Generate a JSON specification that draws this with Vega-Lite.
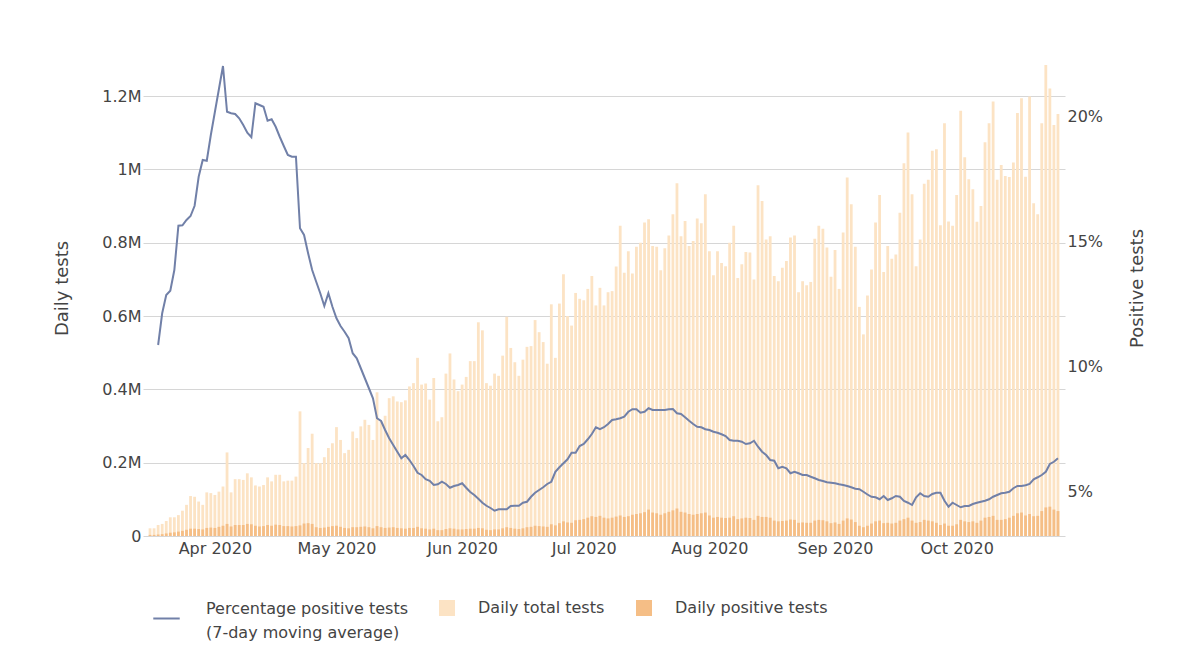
{
  "$schema": "https://vega.github.io/schema/vega-lite/v6.json",
  "width": 922,
  "height": 496,
  "autosize": {"type": "none"},
  "padding": {"left": 143, "top": 40, "right": 135, "bottom": 122},
  "background": "white",
  "config": {
    "view": {"stroke": null},
    "font": "DejaVu Sans",
    "axis": {"labelFont": "DejaVu Sans", "labelFontSize": 16, "labelColor": "#444444", "titleFont": "DejaVu Sans", "titleFontSize": 18, "titleColor": "#444444", "titleFontWeight": "normal", "domain": false, "ticks": false},
    "legend": {"labelFont": "DejaVu Sans", "labelFontSize": 16, "labelColor": "#444444", "padding": 0, "labelLimit": 0}
  },
  "data": {"values": [
    {"date":"2020-03-16","total":21000,"positive":3000},
    {"date":"2020-03-17","total":21000,"positive":3000},
    {"date":"2020-03-18","total":30000,"positive":4000,"pct":10.84},
    {"date":"2020-03-19","total":33000,"positive":5000,"pct":12.11},
    {"date":"2020-03-20","total":41000,"positive":7000,"pct":12.84},
    {"date":"2020-03-21","total":51000,"positive":9000,"pct":13.01},
    {"date":"2020-03-22","total":51000,"positive":10000,"pct":13.84},
    {"date":"2020-03-23","total":57000,"positive":12000,"pct":15.61},
    {"date":"2020-03-24","total":69000,"positive":14000,"pct":15.63},
    {"date":"2020-03-25","total":85000,"positive":17000,"pct":15.84},
    {"date":"2020-03-26","total":109000,"positive":20000,"pct":16.0},
    {"date":"2020-03-27","total":107000,"positive":20000,"pct":16.41},
    {"date":"2020-03-28","total":94000,"positive":19000,"pct":17.57},
    {"date":"2020-03-29","total":85000,"positive":18000,"pct":18.24},
    {"date":"2020-03-30","total":119000,"positive":22000,"pct":18.21},
    {"date":"2020-03-31","total":117000,"positive":23000,"pct":19.24},
    {"date":"2020-04-01","total":112000,"positive":22000,"pct":20.16},
    {"date":"2020-04-02","total":121000,"positive":25000,"pct":21.08},
    {"date":"2020-04-03","total":135000,"positive":28000,"pct":22.0},
    {"date":"2020-04-04","total":228000,"positive":33000,"pct":20.17},
    {"date":"2020-04-05","total":119000,"positive":26000,"pct":20.11},
    {"date":"2020-04-06","total":155000,"positive":30000,"pct":20.08},
    {"date":"2020-04-07","total":155000,"positive":30000,"pct":19.91},
    {"date":"2020-04-08","total":153000,"positive":30000,"pct":19.64},
    {"date":"2020-04-09","total":171000,"positive":33000,"pct":19.33},
    {"date":"2020-04-10","total":160000,"positive":32000,"pct":19.15},
    {"date":"2020-04-11","total":138000,"positive":28000,"pct":20.51},
    {"date":"2020-04-12","total":135000,"positive":26000,"pct":20.44},
    {"date":"2020-04-13","total":139000,"positive":27000,"pct":20.37},
    {"date":"2020-04-14","total":160000,"positive":30000,"pct":19.81},
    {"date":"2020-04-15","total":149000,"positive":28000,"pct":19.87},
    {"date":"2020-04-16","total":167000,"positive":31000,"pct":19.57},
    {"date":"2020-04-17","total":167000,"positive":30000,"pct":19.17},
    {"date":"2020-04-18","total":149000,"positive":27000,"pct":18.8},
    {"date":"2020-04-19","total":151000,"positive":27000,"pct":18.44},
    {"date":"2020-04-20","total":151000,"positive":26000,"pct":18.37},
    {"date":"2020-04-21","total":162000,"positive":27000,"pct":18.37},
    {"date":"2020-04-22","total":340000,"positive":29000,"pct":15.51},
    {"date":"2020-04-23","total":199000,"positive":34000,"pct":15.24},
    {"date":"2020-04-24","total":240000,"positive":35000,"pct":14.51},
    {"date":"2020-04-25","total":279000,"positive":33000,"pct":13.84},
    {"date":"2020-04-26","total":199000,"positive":24000,"pct":13.37},
    {"date":"2020-04-27","total":199000,"positive":22000,"pct":12.91},
    {"date":"2020-04-28","total":215000,"positive":23000,"pct":12.40},
    {"date":"2020-04-29","total":240000,"positive":25000,"pct":12.91},
    {"date":"2020-04-30","total":253000,"positive":27000,"pct":12.37},
    {"date":"2020-05-01","total":297000,"positive":28000,"pct":11.91},
    {"date":"2020-05-02","total":262000,"positive":25000,"pct":11.60},
    {"date":"2020-05-03","total":226000,"positive":22000,"pct":11.37},
    {"date":"2020-05-04","total":235000,"positive":21000,"pct":11.11},
    {"date":"2020-05-05","total":285000,"positive":24000,"pct":10.51},
    {"date":"2020-05-06","total":267000,"positive":24000,"pct":10.31},
    {"date":"2020-05-07","total":299000,"positive":25000,"pct":9.91},
    {"date":"2020-05-08","total":317000,"positive":26000,"pct":9.51},
    {"date":"2020-05-09","total":303000,"positive":24000,"pct":9.11},
    {"date":"2020-05-10","total":262000,"positive":21000,"pct":8.71},
    {"date":"2020-05-11","total":392000,"positive":27000,"pct":7.91},
    {"date":"2020-05-12","total":313000,"positive":24000,"pct":7.80},
    {"date":"2020-05-13","total":328000,"positive":22000,"pct":7.44},
    {"date":"2020-05-14","total":376000,"positive":23000,"pct":7.11},
    {"date":"2020-05-15","total":381000,"positive":24000,"pct":6.84},
    {"date":"2020-05-16","total":367000,"positive":22000,"pct":6.57},
    {"date":"2020-05-17","total":365000,"positive":21000,"pct":6.31},
    {"date":"2020-05-18","total":370000,"positive":20000,"pct":6.44},
    {"date":"2020-05-19","total":408000,"positive":22000,"pct":6.24},
    {"date":"2020-05-20","total":417000,"positive":22000,"pct":6.00},
    {"date":"2020-05-21","total":486000,"positive":25000,"pct":5.73},
    {"date":"2020-05-22","total":413000,"positive":21000,"pct":5.64},
    {"date":"2020-05-23","total":416000,"positive":20000,"pct":5.47},
    {"date":"2020-05-24","total":372000,"positive":18000,"pct":5.41},
    {"date":"2020-05-25","total":431000,"positive":20000,"pct":5.24},
    {"date":"2020-05-26","total":313000,"positive":16000,"pct":5.27},
    {"date":"2020-05-27","total":324000,"positive":16000,"pct":5.37},
    {"date":"2020-05-28","total":443000,"positive":19000,"pct":5.28},
    {"date":"2020-05-29","total":498000,"positive":21000,"pct":5.13},
    {"date":"2020-05-30","total":427000,"positive":20000,"pct":5.20},
    {"date":"2020-05-31","total":395000,"positive":18000,"pct":5.24},
    {"date":"2020-06-01","total":413000,"positive":18000,"pct":5.31},
    {"date":"2020-06-02","total":434000,"positive":19000,"pct":5.13},
    {"date":"2020-06-03","total":477000,"positive":20000,"pct":4.96},
    {"date":"2020-06-04","total":477000,"positive":20000,"pct":4.84},
    {"date":"2020-06-05","total":583000,"positive":22000,"pct":4.69},
    {"date":"2020-06-06","total":561000,"positive":21000,"pct":4.53},
    {"date":"2020-06-07","total":417000,"positive":17000,"pct":4.41},
    {"date":"2020-06-08","total":410000,"positive":16000,"pct":4.32},
    {"date":"2020-06-09","total":443000,"positive":18000,"pct":4.21},
    {"date":"2020-06-10","total":437000,"positive":18000,"pct":4.27},
    {"date":"2020-06-11","total":492000,"positive":21000,"pct":4.27},
    {"date":"2020-06-12","total":598000,"positive":24000,"pct":4.27},
    {"date":"2020-06-13","total":513000,"positive":22000,"pct":4.40},
    {"date":"2020-06-14","total":474000,"positive":20000,"pct":4.41},
    {"date":"2020-06-15","total":437000,"positive":19000,"pct":4.41},
    {"date":"2020-06-16","total":481000,"positive":21000,"pct":4.53},
    {"date":"2020-06-17","total":516000,"positive":24000,"pct":4.57},
    {"date":"2020-06-18","total":518000,"positive":25000,"pct":4.77},
    {"date":"2020-06-19","total":589000,"positive":28000,"pct":4.93},
    {"date":"2020-06-20","total":556000,"positive":27000,"pct":5.04},
    {"date":"2020-06-21","total":529000,"positive":26000,"pct":5.15},
    {"date":"2020-06-22","total":470000,"positive":25000,"pct":5.28},
    {"date":"2020-06-23","total":632000,"positive":32000,"pct":5.37},
    {"date":"2020-06-24","total":486000,"positive":29000,"pct":5.77},
    {"date":"2020-06-25","total":634000,"positive":35000,"pct":5.95},
    {"date":"2020-06-26","total":714000,"positive":40000,"pct":6.11},
    {"date":"2020-06-27","total":600000,"positive":37000,"pct":6.27},
    {"date":"2020-06-28","total":574000,"positive":36000,"pct":6.53},
    {"date":"2020-06-29","total":663000,"positive":43000,"pct":6.53},
    {"date":"2020-06-30","total":647000,"positive":44000,"pct":6.80},
    {"date":"2020-07-01","total":643000,"positive":46000,"pct":6.88},
    {"date":"2020-07-02","total":674000,"positive":50000,"pct":7.07},
    {"date":"2020-07-03","total":709000,"positive":54000,"pct":7.28},
    {"date":"2020-07-04","total":629000,"positive":52000,"pct":7.55},
    {"date":"2020-07-05","total":677000,"positive":55000,"pct":7.47},
    {"date":"2020-07-06","total":629000,"positive":50000,"pct":7.55},
    {"date":"2020-07-07","total":665000,"positive":48000,"pct":7.68},
    {"date":"2020-07-08","total":668000,"positive":50000,"pct":7.84},
    {"date":"2020-07-09","total":735000,"positive":53000,"pct":7.87},
    {"date":"2020-07-10","total":846000,"positive":56000,"pct":7.91},
    {"date":"2020-07-11","total":718000,"positive":52000,"pct":7.97},
    {"date":"2020-07-12","total":777000,"positive":54000,"pct":8.17},
    {"date":"2020-07-13","total":716000,"positive":58000,"pct":8.27},
    {"date":"2020-07-14","total":789000,"positive":60000,"pct":8.27},
    {"date":"2020-07-15","total":800000,"positive":62000,"pct":8.13},
    {"date":"2020-07-16","total":855000,"positive":65000,"pct":8.17},
    {"date":"2020-07-17","total":864000,"positive":72000,"pct":8.31},
    {"date":"2020-07-18","total":791000,"positive":64000,"pct":8.24},
    {"date":"2020-07-19","total":789000,"positive":62000,"pct":8.24},
    {"date":"2020-07-20","total":725000,"positive":58000,"pct":8.24},
    {"date":"2020-07-21","total":785000,"positive":62000,"pct":8.24},
    {"date":"2020-07-22","total":820000,"positive":66000,"pct":8.27},
    {"date":"2020-07-23","total":878000,"positive":70000,"pct":8.28},
    {"date":"2020-07-24","total":962000,"positive":75000,"pct":8.11},
    {"date":"2020-07-25","total":818000,"positive":66000,"pct":8.08},
    {"date":"2020-07-26","total":859000,"positive":64000,"pct":7.95},
    {"date":"2020-07-27","total":791000,"positive":60000,"pct":7.81},
    {"date":"2020-07-28","total":805000,"positive":58000,"pct":7.68},
    {"date":"2020-07-29","total":866000,"positive":60000,"pct":7.57},
    {"date":"2020-07-30","total":853000,"positive":62000,"pct":7.55},
    {"date":"2020-07-31","total":932000,"positive":64000,"pct":7.47},
    {"date":"2020-08-01","total":777000,"positive":56000,"pct":7.44},
    {"date":"2020-08-02","total":711000,"positive":50000,"pct":7.37},
    {"date":"2020-08-03","total":777000,"positive":52000,"pct":7.33},
    {"date":"2020-08-04","total":745000,"positive":50000,"pct":7.27},
    {"date":"2020-08-05","total":736000,"positive":49000,"pct":7.20},
    {"date":"2020-08-06","total":800000,"positive":50000,"pct":7.04},
    {"date":"2020-08-07","total":846000,"positive":54000,"pct":7.01},
    {"date":"2020-08-08","total":704000,"positive":46000,"pct":7.01},
    {"date":"2020-08-09","total":741000,"positive":48000,"pct":6.97},
    {"date":"2020-08-10","total":775000,"positive":50000,"pct":6.88},
    {"date":"2020-08-11","total":773000,"positive":49000,"pct":6.91},
    {"date":"2020-08-12","total":700000,"positive":44000,"pct":7.01},
    {"date":"2020-08-13","total":957000,"positive":55000,"pct":6.77},
    {"date":"2020-08-14","total":914000,"positive":52000,"pct":6.57},
    {"date":"2020-08-15","total":809000,"positive":52000,"pct":6.44},
    {"date":"2020-08-16","total":818000,"positive":50000,"pct":6.24},
    {"date":"2020-08-17","total":709000,"positive":42000,"pct":6.21},
    {"date":"2020-08-18","total":695000,"positive":40000,"pct":5.91},
    {"date":"2020-08-19","total":732000,"positive":41000,"pct":5.97},
    {"date":"2020-08-20","total":750000,"positive":42000,"pct":5.91},
    {"date":"2020-08-21","total":814000,"positive":45000,"pct":5.71},
    {"date":"2020-08-22","total":820000,"positive":44000,"pct":5.77},
    {"date":"2020-08-23","total":665000,"positive":36000,"pct":5.71},
    {"date":"2020-08-24","total":695000,"positive":37000,"pct":5.64},
    {"date":"2020-08-25","total":684000,"positive":36000,"pct":5.64},
    {"date":"2020-08-26","total":693000,"positive":36000,"pct":5.57},
    {"date":"2020-08-27","total":811000,"positive":42000,"pct":5.51},
    {"date":"2020-08-28","total":846000,"positive":44000,"pct":5.44},
    {"date":"2020-08-29","total":838000,"positive":43000,"pct":5.40},
    {"date":"2020-08-30","total":787000,"positive":40000,"pct":5.35},
    {"date":"2020-08-31","total":707000,"positive":35000,"pct":5.33},
    {"date":"2020-09-01","total":780000,"positive":37000,"pct":5.31},
    {"date":"2020-09-02","total":674000,"positive":33000,"pct":5.27},
    {"date":"2020-09-03","total":828000,"positive":42000,"pct":5.24},
    {"date":"2020-09-04","total":978000,"positive":48000,"pct":5.20},
    {"date":"2020-09-05","total":905000,"positive":45000,"pct":5.15},
    {"date":"2020-09-06","total":789000,"positive":38000,"pct":5.09},
    {"date":"2020-09-07","total":625000,"positive":28000,"pct":5.07},
    {"date":"2020-09-08","total":550000,"positive":24000,"pct":4.97},
    {"date":"2020-09-09","total":656000,"positive":28000,"pct":4.86},
    {"date":"2020-09-10","total":727000,"positive":34000,"pct":4.77},
    {"date":"2020-09-11","total":855000,"positive":40000,"pct":4.75},
    {"date":"2020-09-12","total":930000,"positive":42000,"pct":4.67},
    {"date":"2020-09-13","total":720000,"positive":35000,"pct":4.80},
    {"date":"2020-09-14","total":791000,"positive":36000,"pct":4.64},
    {"date":"2020-09-15","total":756000,"positive":34000,"pct":4.71},
    {"date":"2020-09-16","total":768000,"positive":36000,"pct":4.80},
    {"date":"2020-09-17","total":882000,"positive":42000,"pct":4.77},
    {"date":"2020-09-18","total":1017000,"positive":46000,"pct":4.60},
    {"date":"2020-09-19","total":1101000,"positive":50000,"pct":4.53},
    {"date":"2020-09-20","total":932000,"positive":42000,"pct":4.44},
    {"date":"2020-09-21","total":736000,"positive":36000,"pct":4.75},
    {"date":"2020-09-22","total":809000,"positive":38000,"pct":4.91},
    {"date":"2020-09-23","total":961000,"positive":44000,"pct":4.80},
    {"date":"2020-09-24","total":972000,"positive":42000,"pct":4.77},
    {"date":"2020-09-25","total":1051000,"positive":40000,"pct":4.88},
    {"date":"2020-09-26","total":1055000,"positive":36000,"pct":4.93},
    {"date":"2020-09-27","total":848000,"positive":30000,"pct":4.93},
    {"date":"2020-09-28","total":1126000,"positive":34000,"pct":4.61},
    {"date":"2020-09-29","total":858000,"positive":28000,"pct":4.37},
    {"date":"2020-09-30","total":846000,"positive":28000,"pct":4.53},
    {"date":"2020-10-01","total":930000,"positive":32000,"pct":4.44},
    {"date":"2020-10-02","total":1160000,"positive":44000,"pct":4.35},
    {"date":"2020-10-03","total":1033000,"positive":40000,"pct":4.40},
    {"date":"2020-10-04","total":973000,"positive":38000,"pct":4.40},
    {"date":"2020-10-05","total":946000,"positive":40000,"pct":4.48},
    {"date":"2020-10-06","total":857000,"positive":36000,"pct":4.53},
    {"date":"2020-10-07","total":900000,"positive":42000,"pct":4.57},
    {"date":"2020-10-08","total":1074000,"positive":50000,"pct":4.61},
    {"date":"2020-10-09","total":1126000,"positive":52000,"pct":4.67},
    {"date":"2020-10-10","total":1185000,"positive":55000,"pct":4.77},
    {"date":"2020-10-11","total":972000,"positive":44000,"pct":4.84},
    {"date":"2020-10-12","total":1012000,"positive":44000,"pct":4.91},
    {"date":"2020-10-13","total":982000,"positive":46000,"pct":4.93},
    {"date":"2020-10-14","total":979000,"positive":50000,"pct":4.97},
    {"date":"2020-10-15","total":1019000,"positive":55000,"pct":5.11},
    {"date":"2020-10-16","total":1154000,"positive":62000,"pct":5.20},
    {"date":"2020-10-17","total":1194000,"positive":64000,"pct":5.20},
    {"date":"2020-10-18","total":980000,"positive":56000,"pct":5.23},
    {"date":"2020-10-19","total":1199000,"positive":60000,"pct":5.28},
    {"date":"2020-10-20","total":908000,"positive":54000,"pct":5.47},
    {"date":"2020-10-21","total":878000,"positive":55000,"pct":5.55},
    {"date":"2020-10-22","total":1126000,"positive":68000,"pct":5.64},
    {"date":"2020-10-23","total":1285000,"positive":78000,"pct":5.77},
    {"date":"2020-10-24","total":1221000,"positive":80000,"pct":6.08},
    {"date":"2020-10-25","total":1121000,"positive":72000,"pct":6.17},
    {"date":"2020-10-26","total":1151000,"positive":68000,"pct":6.31}
  ]},
  "layer": [
    {
      "layer": [
        {
          "mark": {"type": "bar", "size": 2.8},
          "encoding": {
            "x": {
              "field": "date", "type": "temporal",
              "scale": {"type": "utc", "domain": [{"year": 2020, "month": 3, "date": 15, "hours": 12, "utc": true}, {"year": 2020, "month": 10, "date": 26, "hours": 12, "utc": true}]},
              "axis": {
                "title": null, "grid": false, "format": "%b %Y", "labelPadding": 4,
                "values": [
                  {"year": 2020, "month": 4, "date": 1, "utc": true},
                  {"year": 2020, "month": 5, "date": 1, "utc": true},
                  {"year": 2020, "month": 6, "date": 1, "utc": true},
                  {"year": 2020, "month": 7, "date": 1, "utc": true},
                  {"year": 2020, "month": 8, "date": 1, "utc": true},
                  {"year": 2020, "month": 9, "date": 1, "utc": true},
                  {"year": 2020, "month": 10, "date": 1, "utc": true}
                ]
              }
            },
            "y": {
              "field": "total", "type": "quantitative",
              "scale": {"domain": [0, 1353000], "nice": false},
              "axis": {
                "title": "Daily tests", "orient": "left", "grid": true, "gridColor": "#d6d6d6",
                "values": [0, 200000, 400000, 600000, 800000, 1000000, 1200000],
                "labelExpr": "datum.value == 0 ? '0' : format(datum.value / 1000000, '~g') + 'M'",
                "labelPadding": 2, "titleX": -81, "titleY": 248, "titleAngle": -90, "titleAlign": "center", "titleBaseline": "middle"
              }
            },
            "fill": {
              "datum": "Daily total tests",
              "scale": {"domain": ["Daily total tests", "Daily positive tests"], "range": ["#fce3c4", "#f5be86"]},
              "legend": {
                "title": null, "orient": "none", "direction": "horizontal", "legendX": 296, "legendY": 560,
                "symbolType": "square", "symbolSize": 256, "symbolStrokeWidth": 0, "labelOffset": 23, "columnPadding": 31
              }
            }
          }
        },
        {
          "mark": {"type": "bar", "size": 2.8},
          "encoding": {
            "x": {"field": "date", "type": "temporal"},
            "y": {"field": "positive", "type": "quantitative"},
            "fill": {"datum": "Daily positive tests"}
          }
        }
      ]
    },
    {
      "transform": [{"filter": "isValid(datum.pct)"}],
      "mark": {"type": "line", "strokeWidth": 2},
      "encoding": {
        "x": {"field": "date", "type": "temporal"},
        "y": {
          "field": "pct", "type": "quantitative",
          "scale": {"domain": [3.2, 23.04], "nice": false, "zero": false},
          "axis": {
            "title": "Positive tests", "orient": "right", "grid": false,
            "values": [5, 10, 15, 20], "labelExpr": "datum.value + '%'", "labelPadding": 2,
            "titleX": 72, "titleY": 248, "titleAngle": -90, "titleAlign": "center", "titleBaseline": "middle"
          }
        },
        "stroke": {
          "datum": "Percentage positive tests",
          "scale": {"range": ["#7180a8"]},
          "legend": {
            "title": null, "orient": "none", "legendX": 9, "legendY": 564,
            "symbolType": "stroke", "symbolSize": 700, "symbolStrokeWidth": 2, "labelOffset": 25,
            "labelExpr": "['Percentage positive tests', '(7-day moving average)']",
            "encode": {"labels": {"update": {"lineHeight": {"value": 24}, "dy": {"value": -10}}}}
          }
        }
      }
    }
  ],
  "resolve": {"scale": {"y": "independent"}}
}
